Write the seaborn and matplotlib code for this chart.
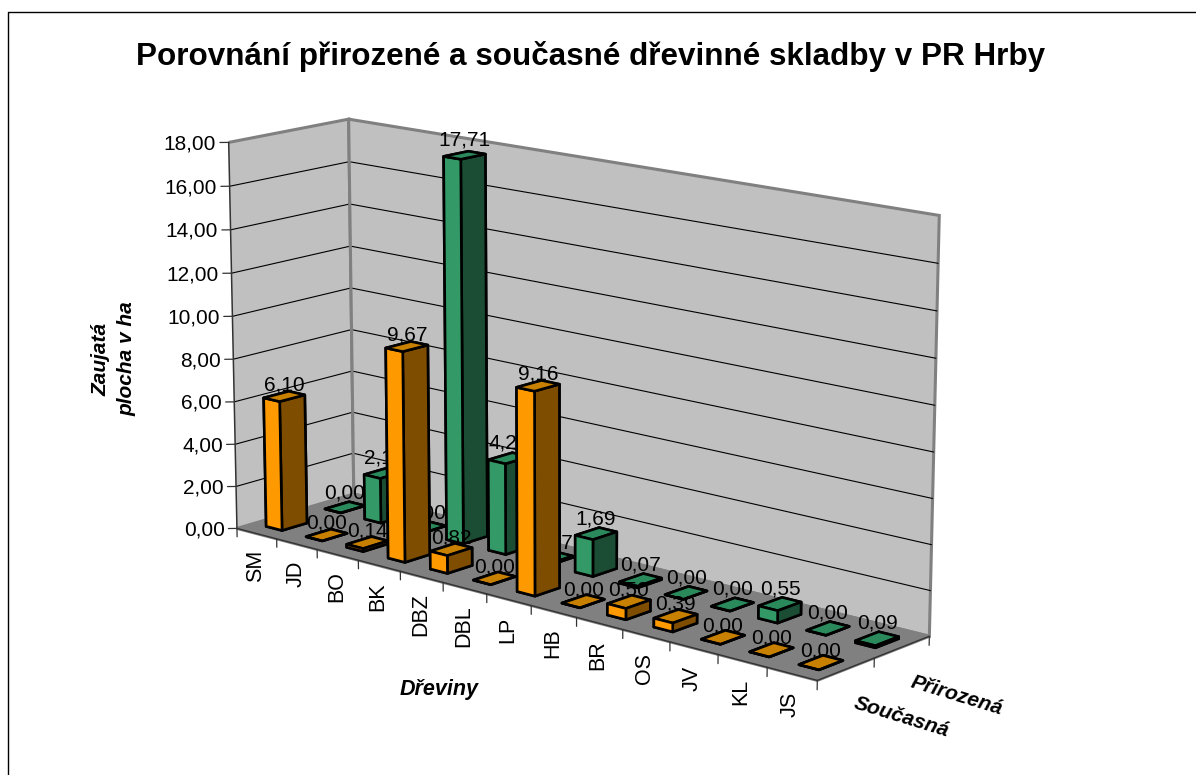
"""
Porovnani prirozene a soucasne drevinne skladby v PR Hrby.
"""
import matplotlib
matplotlib.use('Agg')
import matplotlib.pyplot as plt
from matplotlib.lines import Line2D
from mpl_toolkits.mplot3d import proj3d
import seaborn as sns

W, H = 1196, 775

DREVINY = ['SM', 'JD', 'BO', 'BK', 'DBZ', 'DBL', 'LP', 'HB', 'BR', 'OS', 'JV', 'KL', 'JS']
SOUCASNA = [6.10, 0.00, 0.14, 9.67, 0.82, 0.00, 9.16, 0.00, 0.50, 0.39, 0.00, 0.00, 0.00]
PRIROZENA = [0.00, 2.13, 0.00, 17.71, 4.22, 0.07, 1.69, 0.07, 0.00, 0.00, 0.55, 0.00, 0.09]
Z_TICKS = [0, 2, 4, 6, 8, 10, 12, 14, 16, 18]

# bottom, top, front, back, left, right
ORANGE = ['#c88000', '#c88000', '#ff9900', '#ff9900', '#ff9900', '#7f4d00']
GREEN = ['#2b8a5c', '#2b8a5c', '#339966', '#339966', '#339966', '#1a4d33']


def comma(value):
    return '{:.2f}'.format(value).replace('.', ',')


def draw_row(ax, values, row, colors, base, lift):
    for i, value in enumerate(values):
        x = i + 0.5
        ax.text(x, row + 0.5, value + lift, comma(value), ha='center', va='bottom',
                fontsize=15, zorder=base + 2 * i)
        ax.bar3d(x - 0.2, row + 0.29, 0, 0.4, 0.42, value, color=colors, shade=False,
                 edgecolor='black', linewidth=1.9, zorder=base + 2 * i + 1)


def plot():
    sns.set_theme(style='white')
    plt.rcParams['font.family'] = ['Liberation Sans', 'DejaVu Sans']
    plt.rcParams['text.color'] = 'black'

    fig = plt.figure(figsize=(W / 100, H / 100), dpi=100)
    ax = fig.add_axes([-46.75 / W, (H - W) / 2 / H - 9.81 / H, 1, W / H],
                      projection='3d', computed_zorder=False)

    ax.set_xlim(0, 13, view_margin=0)
    ax.set_ylim(0, 2, view_margin=0)
    ax.set_zlim(0, 18, view_margin=0)
    ax.view_init(elev=14.1054, azim=-49.03)
    ax.set_proj_type('persp', focal_length=0.6064)
    ax.set_box_aspect((1, 0.2303, 0.5374), zoom=0.7263)

    ax.grid(False)
    ax.set_xticks([])
    ax.set_yticks([])
    ax.set_zticks([])
    for axis, color in ((ax.xaxis, '#c0c0c0'), (ax.yaxis, '#c0c0c0'), (ax.zaxis, '#808080')):
        axis.set_pane_color(color)
        axis.pane.set_edgecolor('#808080')
        axis.pane.set_linewidth(2.2)
        axis.line.set_color('none')

    # value grid on the two walls, with its ticks and labels
    for value in Z_TICKS:
        if 0 < value < Z_TICKS[-1]:
            ax.plot([0, 0, 13], [0, 2, 2], [value, value, value], color='black', lw=0.8, zorder=2)
        ax.plot([0, -0.11], [0, -0.07], [value, value], color='#333333', lw=0.9, zorder=2)
        ax.text(-0.16, -0.1, value - 0.07, comma(value), ha='right', va='center', fontsize=15)

    # axis edges and the ticks that hang from them
    ax.plot([0, 0], [2, 2], [0, 18], color='#808080', lw=2.2, zorder=3)
    ax.plot([0, 0], [0, 0], [0, 18], color='#333333', lw=1.1, zorder=3)
    ax.plot([0, 13, 13], [0, 0, 2], [0, 0, 0], color='#333333', lw=1, zorder=3)
    for i in range(len(DREVINY) + 1):
        ax.plot([i, i], [0, 0], [0, -0.4], color='#333333', lw=0.9, zorder=3)
    for row in (1, 2):
        ax.plot([13, 13], [row, row], [0, -0.4], color='#333333', lw=0.9, zorder=3)

    # category names stand upright, so place them in the projected plane
    M = ax.get_proj()
    for i, name in enumerate(DREVINY):
        px, py, _ = proj3d.proj_transform(i + 0.47, 0, -0.78, M)
        ax.text2D(px, py, name, transform=ax.transData, rotation=90,
                  ha='center', va='top', fontsize=15.5)

    draw_row(ax, PRIROZENA, 1, GREEN, 10, 0.25)
    draw_row(ax, SOUCASNA, 0, ORANGE, 100, 0.1)

    fig.text(590.5 / W, 1 - 56 / H, 'Porovnání přirozené a současné dřevinné skladby v PR Hrby',
             ha='center', va='center', fontsize=22.6, fontweight='bold')
    fig.text(114 / W, 1 - 359 / H, 'Zaujatá\nplocha v ha', rotation=90, ha='center', va='center',
             fontsize=15, fontweight='bold', fontstyle='italic', linespacing=1.45)
    fig.text(439 / W, 1 - 690 / H, 'Dřeviny', ha='center', va='center',
             fontsize=15.5, fontweight='bold', fontstyle='italic')
    fig.text(957 / W, 1 - 696 / H, 'Přirozená', rotation=-17, ha='center', va='center',
             fontsize=15, fontweight='bold', fontstyle='italic')
    fig.text(902 / W, 1 - 717 / H, 'Současná', rotation=-17, ha='center', va='center',
             fontsize=15, fontweight='bold', fontstyle='italic')

    fig.add_artist(Line2D([8 / W, 8 / W, 1], [0, 1 - 11.5 / H, 1 - 11.5 / H], color='black', lw=1))

    fig.savefig('out.png', dpi=100)


if __name__ == '__main__':

    plot()
